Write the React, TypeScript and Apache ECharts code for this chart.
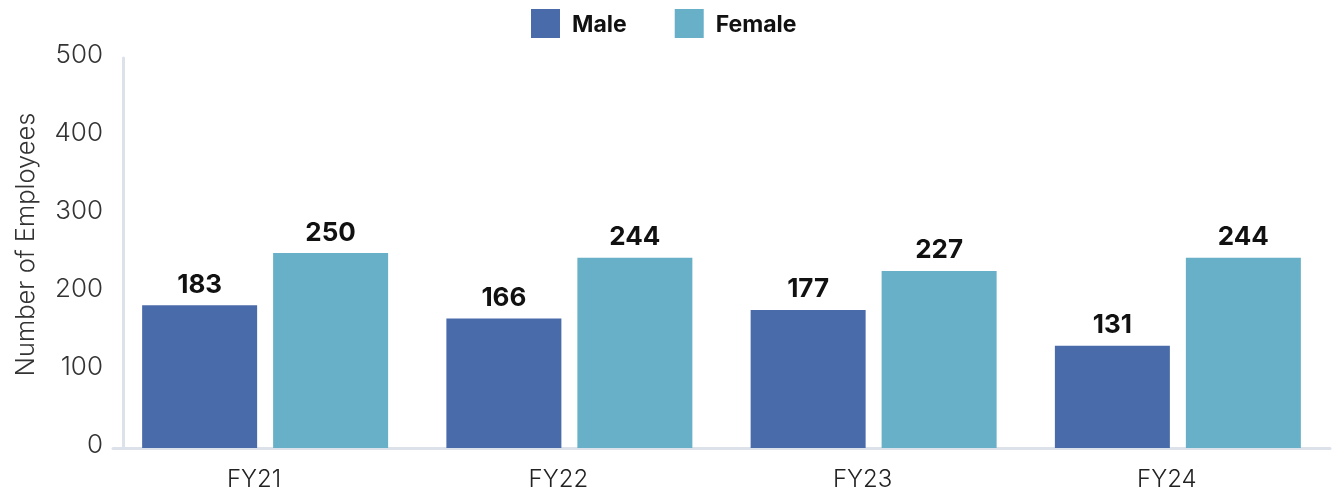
import React, { useEffect, useRef } from "react";
import * as echarts from "echarts";

const categories = ["FY21", "FY22", "FY23", "FY24"];
const maleValues = [183, 166, 177, 131];
const femaleValues = [250, 244, 227, 244];
const seriesNames = ["Male", "Female"];
const yTicks = { min: 0, max: 500, interval: 100 };

const FONT = "Inter, 'Noto Sans', sans-serif";

export default function App() {
  const ref = useRef<HTMLDivElement>(null);
  useEffect(() => {
    if (!ref.current) return;
    const chart = echarts.init(ref.current, undefined, { renderer: "svg" });
    const labelStyle = {
      show: true,
      position: "top" as const,
      distance: 9,
      fontFamily: FONT,
      fontSize: 26,
      fontWeight: 700,
      color: "#111111",
    };
    chart.setOption({
      animation: false,
      textStyle: { fontFamily: FONT },
      legend: {
        top: 4,
        left: 526,
        icon: "rect",
        itemWidth: 29,
        itemHeight: 29,
        itemGap: 48,
        textStyle: {
          fontFamily: FONT,
          fontSize: 23,
          fontWeight: 700,
          color: "#111111",
          padding: [0, 0, 0, 7],
        },
        data: seriesNames,
      },
      grid: { left: 113, right: 5, top: 58, bottom: 50 },
      xAxis: {
        type: "category",
        data: categories,
        axisLine: { show: true, lineStyle: { color: "#dde1e9", width: 3 } },
        axisTick: { show: false },
        axisLabel: {
          fontFamily: FONT,
          fontSize: 24,
          fontWeight: 300,
          color: "#222222",
          margin: 18,
          padding: [0, 22, 0, 0],
        },
      },
      yAxis: {
        type: "value",
        min: yTicks.min,
        max: yTicks.max,
        interval: yTicks.interval,
        offset: -10,
        name: "Number of Employees",
        nameLocation: "middle",
        nameGap: 86,
        nameTextStyle: {
          fontFamily: FONT,
          fontSize: 25.5,
          fontWeight: 300,
          color: "#333333",
          padding: [0, 0, 0, 17],
        },
        axisLine: { show: true, lineStyle: { color: "#dde1e9", width: 3 } },
        axisTick: { show: false },
        splitLine: { show: false },
        axisLabel: {
          margin: 20,
          formatter: "{t|{value}}",
          rich: {
            t: {
              fontFamily: FONT,
              fontSize: 26,
              fontWeight: 300,
              color: "#333333",
              padding: [0, 0, 9, 0],
            },
          },
        },
      },
      series: [
        {
          name: seriesNames[0],
          type: "bar",
          data: maleValues,
          barWidth: 115,
          barGap: "13.9%",
          itemStyle: { color: "#4a6ba9" },
          label: labelStyle,
        },
        {
          name: seriesNames[1],
          type: "bar",
          data: femaleValues,
          barWidth: 115,
          barGap: "13.9%",
          itemStyle: { color: "#67b0c8" },
          label: labelStyle,
        },
      ],
    });
    return () => chart.dispose();
  }, []);
  return (
    <div
      ref={ref}
      style={{ position: "fixed", left: 0, top: 0, width: 1335, height: 498 }}
    />
  );
}
